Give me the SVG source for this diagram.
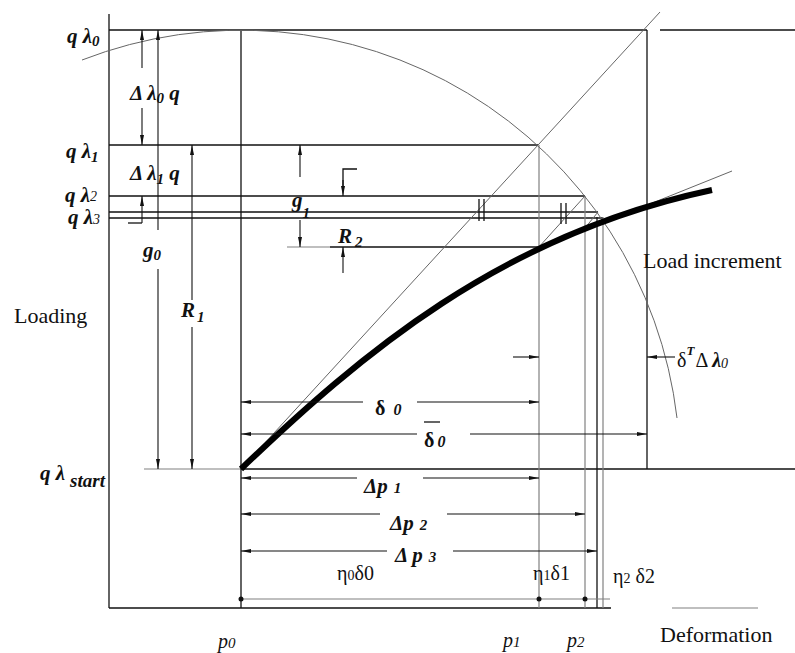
<svg xmlns="http://www.w3.org/2000/svg" width="795" height="653" viewBox="0 0 795 653">
<defs>
<style>
.k{stroke:#111;stroke-width:1.3;fill:none}
.g{stroke:#808080;stroke-width:1.2;fill:none}
.t{stroke:#666;stroke-width:1;fill:none}
.d{stroke:#111;stroke-width:1.1;fill:none;marker-end:url(#ah)}
.lb{font-family:"Liberation Serif",serif;font-size:21px;font-weight:bold;font-style:italic;fill:#111}
.rg{font-family:"Liberation Serif",serif;font-size:22px;fill:#111}
.sm{font-family:"Liberation Serif",serif;font-size:20px;fill:#111}
.it{font-family:"Liberation Serif",serif;font-size:20px;font-style:italic;fill:#111}
</style>
<marker id="ah" viewBox="0 0 10 4" refX="10" refY="2" markerWidth="10" markerHeight="4" markerUnits="userSpaceOnUse" orient="auto"><path d="M0,0 L10,2 L0,4 z" fill="#111"/></marker>
</defs>
<rect width="795" height="653" fill="#fff"/>
<g id="axes">
<line class="k" x1="109" y1="14" x2="109" y2="608"/>
<line class="k" x1="109" y1="608" x2="611" y2="608"/>
<line class="g" x1="672" y1="608" x2="758" y2="608"/>
</g>
<g id="grid">
<line class="k" x1="109" y1="30" x2="647" y2="30"/>
<line class="k" x1="660" y1="30" x2="795" y2="30"/>
<line class="k" x1="109" y1="145" x2="538" y2="145"/>
<line class="k" x1="109" y1="196" x2="585" y2="196"/>
<line class="k" x1="109" y1="212" x2="598" y2="212"/>
<line class="k" x1="109" y1="218" x2="603" y2="218"/>
<line class="g" x1="287" y1="247" x2="330" y2="247"/>
<line class="k" x1="330" y1="247" x2="538" y2="247"/>
<line class="g" x1="144" y1="469" x2="241" y2="469"/>
<line class="k" x1="241" y1="469" x2="795" y2="469"/>
<line class="k" x1="241" y1="30" x2="241" y2="608"/>
<line class="g" x1="539" y1="145" x2="539" y2="608"/>
<line class="g" x1="585" y1="196" x2="585" y2="608"/>
<line class="k" x1="597" y1="217" x2="597" y2="608"/>
<line class="g" x1="603" y1="217" x2="603" y2="608"/>
<line class="k" x1="647" y1="30" x2="647" y2="469"/>
</g>
<g id="construction">
<path class="t" d="M82,60 A439,439 0 0,1 677,418"/>
<line class="t" x1="241" y1="469" x2="660" y2="12"/>
<line class="t" x1="538" y1="248" x2="585" y2="196"/>
<line class="t" x1="585" y1="228" x2="598" y2="212"/>
<line class="t" x1="600" y1="224" x2="732" y2="171"/>
<line class="k" x1="479" y1="199" x2="479" y2="221"/>
<line class="k" x1="484" y1="199" x2="484" y2="221"/>
<line class="k" x1="561" y1="203" x2="561" y2="224"/>
<line class="k" x1="566" y1="203" x2="566" y2="224"/>
</g>
<g id="curve">
<path d="M241,469 C360,355 500,235 712,190" stroke="#000" stroke-width="6" fill="none"/>
</g>
<g id="connectors">
<line class="d" x1="142" y1="68" x2="142" y2="30"/>
<line class="d" x1="142" y1="108" x2="142" y2="145"/>
<line class="d" x1="158" y1="230" x2="158" y2="30"/>
<line class="d" x1="158" y1="269" x2="158" y2="469"/>
<line class="d" x1="142" y1="223" x2="142" y2="196"/>
<line class="k" x1="128" y1="223" x2="142" y2="223"/>
<line class="d" x1="192" y1="300" x2="192" y2="145"/>
<line class="d" x1="192" y1="327" x2="192" y2="469"/>
<line class="d" x1="300" y1="177" x2="300" y2="145"/>
<line class="d" x1="300" y1="220" x2="300" y2="247"/>
<polyline class="k" points="357,169 343,169 343,186"/>
<line class="d" x1="343" y1="180" x2="343" y2="196"/>
<line class="d" x1="343" y1="273" x2="343" y2="247"/>
<line class="d" x1="513" y1="357" x2="539" y2="357"/>
<line class="d" x1="675" y1="357" x2="647" y2="357"/>
<line class="d" x1="363" y1="402" x2="241" y2="402"/>
<line class="d" x1="417" y1="402" x2="539" y2="402"/>
<line class="d" x1="417" y1="434" x2="241" y2="434"/>
<line class="d" x1="470" y1="434" x2="647" y2="434"/>
<line class="d" x1="357" y1="478" x2="241" y2="478"/>
<line class="d" x1="423" y1="478" x2="539" y2="478"/>
<line class="d" x1="380" y1="514" x2="241" y2="514"/>
<line class="d" x1="447" y1="514" x2="585" y2="514"/>
<line class="d" x1="387" y1="551" x2="241" y2="551"/>
<line class="d" x1="453" y1="551" x2="597" y2="551"/>
<line class="g" x1="241" y1="599" x2="610" y2="599"/>
<circle cx="241" cy="599" r="2.5" fill="#111"/>
<circle cx="539" cy="599" r="2.5" fill="#111"/>
<circle cx="585" cy="599" r="2.5" fill="#111"/>
</g>
<g id="labels">
<text class="lb" x="67" y="43">q λ<tspan font-size="15" dy="3">0</tspan></text>
<text class="lb" x="66" y="158">q λ<tspan font-size="15" dy="4">1</tspan></text>
<text class="lb" x="65" y="202" font-size="20">q λ<tspan font-size="14" font-weight="normal" dy="-1">2</tspan></text>
<text class="lb" x="68" y="224" font-size="20">q λ<tspan font-size="14" font-weight="normal" dy="0">3</tspan></text>
<text class="lb" x="130" y="100">Δ λ<tspan font-size="15" dy="3">0</tspan><tspan dy="-3"> q</tspan></text>
<text class="lb" x="130" y="180">Δ λ<tspan font-size="15" dy="4">1</tspan><tspan dy="-4"> q</tspan></text>
<text class="lb" x="143" y="257">g<tspan font-size="15" dy="3">0</tspan></text>
<text class="lb" x="292" y="207">g<tspan font-size="15" dy="11">1</tspan></text>
<text class="lb" x="181" y="317">R<tspan font-size="15" dy="5" dx="2">1</tspan></text>
<text class="lb" x="338" y="243">R<tspan font-size="15" dy="4" dx="3">2</tspan></text>
<text class="lb" x="40" y="480">q λ<tspan font-size="19" dy="7" dx="5">start</tspan></text>
<text class="rg" x="14" y="323">Loading</text>
<text class="rg" x="643" y="268">Load increment</text>
<text class="rg" x="660" y="642">Deformation</text>
<text class="sm" x="677" y="367" font-size="22">δ<tspan font-size="13" font-style="italic" font-weight="bold" dy="-12">T</tspan><tspan dy="12" dx="1">Δ </tspan><tspan font-style="italic" font-weight="bold">λ</tspan><tspan font-size="14" font-style="italic" dy="1">0</tspan></text>
<text class="sm" x="375" y="415" font-size="23" font-weight="bold">δ<tspan font-size="16" font-style="italic" dx="8">0</tspan></text>
<text class="sm" x="424" y="447" font-size="23" font-weight="bold">δ<tspan font-size="16" font-style="italic" dx="3">0</tspan></text>
<line class="k" x1="424" y1="422" x2="440" y2="422"/>
<text class="lb" x="364" y="493">Δp<tspan font-size="15" dx="6">1</tspan></text>
<text class="lb" x="390" y="530">Δp<tspan font-size="15" dx="6">2</tspan></text>
<text class="lb" x="395" y="562">Δ p<tspan font-size="15" dx="6">3</tspan></text>
<text class="sm" x="337" y="580">η<tspan font-size="14">0</tspan>δ0</text>
<text class="sm" x="533" y="580">η<tspan font-size="14">1</tspan>δ1</text>
<text class="sm" x="613" y="583">η<tspan font-size="14">2</tspan> δ2</text>
<text class="it" x="218" y="648">p<tspan font-size="15">0</tspan></text>
<text class="it" x="503" y="647">p<tspan font-size="15">1</tspan></text>
<text class="it" x="567" y="647">p<tspan font-size="15">2</tspan></text>
</g>
</svg>
